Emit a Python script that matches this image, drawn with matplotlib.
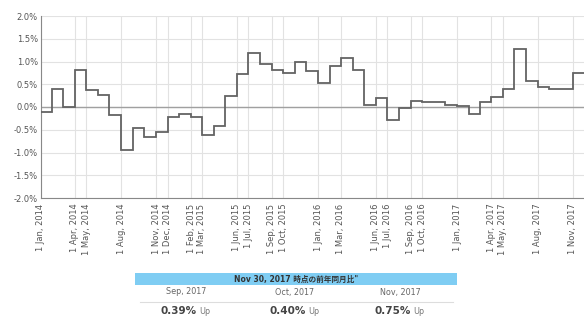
import matplotlib
matplotlib.use("Agg")
import matplotlib.pyplot as plt
import matplotlib.dates as mdates
import numpy as np
import pandas as pd
from matplotlib.patches import Rectangle
from matplotlib.lines import Line2D

plt.rcParams['font.family'] = ['DejaVu Sans', 'Noto Sans CJK JP']

# Monthly YoY change (%), Jan 2014 .. Nov 2017
months = pd.date_range("2014-01-01", "2017-11-01", freq="MS")
values = [
    -0.11, 0.40, 0.00, 0.81, 0.38, 0.27, -0.17, -0.95, -0.46, -0.65, -0.55, -0.23,
    -0.15, -0.23, -0.62, -0.42, 0.24, 0.73, 1.18, 0.94, 0.81, 0.75, 0.98, 0.80,
    0.52, 0.91, 1.07, 0.81, 0.05, 0.20, -0.29, -0.02, 0.14, 0.12, 0.12, 0.04,
    0.02, -0.15, 0.12, 0.21, 0.40, 1.27, 0.57, 0.45, 0.39, 0.40, 0.75,
]
tick_dates = ["2014-01-01", "2014-04-01", "2014-05-01", "2014-08-01", "2014-11-01",
              "2014-12-01", "2015-02-01", "2015-03-01", "2015-06-01", "2015-07-01",
              "2015-09-01", "2015-10-01", "2016-01-01", "2016-03-01", "2016-06-01",
              "2016-07-01", "2016-09-01", "2016-10-01", "2017-01-01", "2017-04-01",
              "2017-05-01", "2017-08-01", "2017-11-01"]
y_ticks = [-2.0, -1.5, -1.0, -0.5, 0.0, 0.5, 1.0, 1.5, 2.0]

table_title = "Nov 30, 2017 時点の前年同月比\""
table_months = ["Sep, 2017", "Oct, 2017", "Nov, 2017"]
table_values = ["0.39%", "0.40%", "0.75%"]
table_dirs = ["Up", "Up", "Up"]

W, H = 584, 318
fig = plt.figure(figsize=(W / 100, H / 100), dpi=100)
ax = fig.add_axes([40.7 / W, 1 - 198 / H, (584 - 40.7) / W, (198 - 16) / H])

edges_dt = list(months) + [months[-1] + pd.offsets.MonthBegin(1)]
edges = mdates.date2num(edges_dt)
ax.stairs(values, edges, baseline=None, color="#636363", linewidth=1.3, zorder=3)

ax.set_xlim(edges[0], edges[-1])
ax.set_ylim(-2.0, 2.0)
ax.set_yticks(y_ticks)
ax.set_yticklabels([f"{v:.1f}%" for v in y_ticks])
tick_nums = mdates.date2num(pd.to_datetime(tick_dates))
ax.set_xticks(tick_nums)
ax.set_xticklabels([pd.Timestamp(d).strftime("1 %b, %Y") for d in tick_dates],
                   rotation=90)
ax.tick_params(axis="both", length=0, labelsize=6, colors="#555555")
ax.tick_params(axis="y", pad=2)
ax.tick_params(axis="x", pad=4)

ax.grid(True, color="#e2e2e2", linewidth=0.8)
ax.set_axisbelow(True)
ax.axhline(0, color="#a0a0a0", linewidth=1.0, zorder=2)

for s in ["top", "right"]:
    ax.spines[s].set_visible(False)
ax.spines["left"].set_color("#888888")
ax.spines["bottom"].set_color("#888888")
ax.spines["left"].set_linewidth(0.8)
ax.spines["bottom"].set_linewidth(0.8)

# Summary table
x0, x1 = 135 / W, 457 / W
fig.patches.append(Rectangle((x0, 1 - 285 / H), x1 - x0, 12 / H,
                             transform=fig.transFigure, facecolor="#7fcdf3",
                             edgecolor="none"))
fig.text((x0 + x1) / 2, 1 - 279.5 / H, table_title, ha="center", va="center",
         fontsize=5.5, fontweight="bold", color="#333333")
fig.lines.append(Line2D([140 / W, 453 / W], [1 - 302 / H, 1 - 302 / H],
                        transform=fig.transFigure, color="#dddddd", linewidth=0.8))
col_centers = [186, 295, 400]
for cx_px, m, v, d in zip(col_centers, table_months, table_values, table_dirs):
    cx = cx_px / W
    fig.text(cx, 1 - 292 / H, m, ha="center", va="center", fontsize=5.8,
             color="#666666")
    fig.text(cx + 11 / W, 1 - 311 / H, v, ha="right", va="center",
             fontsize=7.5, fontweight="bold", color="#444444")
    fig.text(cx + 13 / W, 1 - 311.5 / H, d, ha="left", va="center", fontsize=5.8,
             color="#777777")

fig.savefig("out.png", dpi=100)
